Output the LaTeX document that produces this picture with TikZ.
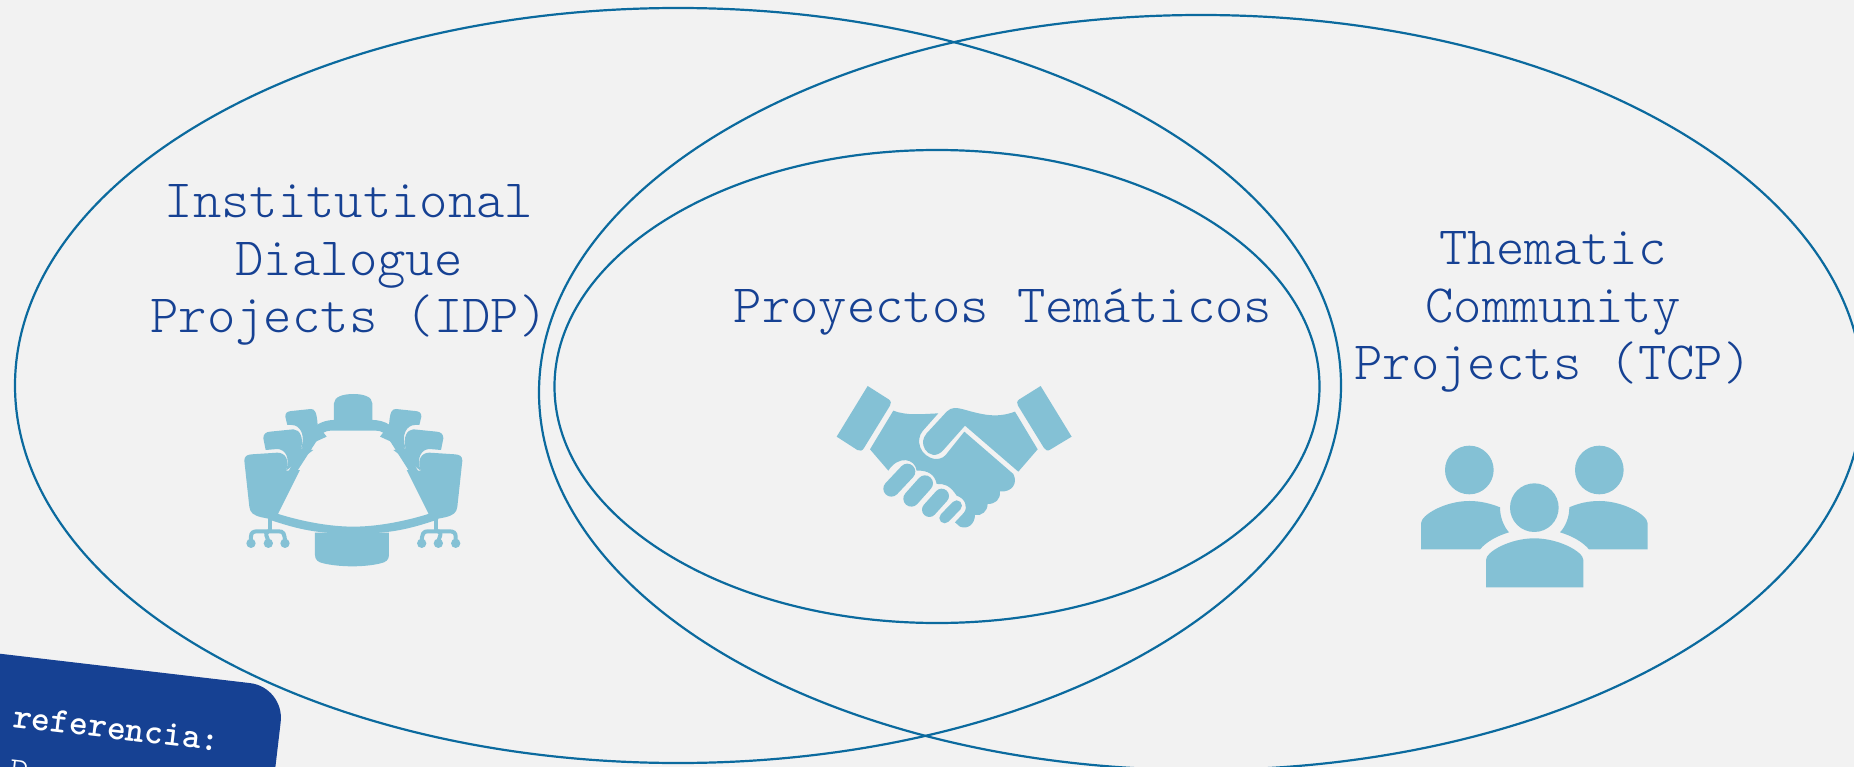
\documentclass[tikz,border=0pt]{standalone}
\usepackage{xcolor}
\usetikzlibrary{positioning}
\definecolor{pagebg}{HTML}{F2F2F2}
\definecolor{ringblue}{HTML}{0B6A9E}
\definecolor{iconblue}{HTML}{84C1D5}
\definecolor{navy}{HTML}{164193}
\tikzset{
    ring/.style={draw=ringblue,line width=2.2pt},
    title/.style={text=navy,align=center,font=\fontsize{54}{57.4}\selectfont\ttfamily\fontseries{l}\selectfont},
    icon/.style={fill=iconblue,draw=none},
    finger/.style={draw=iconblue,line cap=round},
}
\begin{document}
\begin{tikzpicture}[x=1pt,y=-1pt]
    \path[use as bounding box,fill=pagebg] (0,0) rectangle (1854,767);
    \clip (0,0) rectangle (1854,767);

    % the three rings
    \draw[ring] (678,385.5) ellipse [x radius=663,y radius=377.5];
    \draw[ring] (1201,392.5) ellipse [x radius=662,y radius=377.5];
    \draw[ring] (937,386.5) ellipse [x radius=382.5,y radius=236.5];

    \node[title] (idp) at (349,265) {Institutional\\Dialogue\\Projects (IDP)};
    \node[title] (pt) at (1003,312) {Proyectos Temáticos};
    \node[title] (tcp) at (1553,312) {Thematic~\\Community\\Projects (TCP)};

    % meeting table
    \begin{scope}[shift={(200,370)},x=0.3333pt,y=-0.3333pt]
        \foreach \s/\t in {1/0,-1/306.67} {
            \begin{scope}[xshift=\t,xscale=\s]
                \fill[icon] (133,272) .. controls (133,258) and (142,254) .. (155,253) -- (232,248)
                    .. controls (255,248) and (270,268) .. (258,302) -- (300,300) -- (225,450) -- (185,442)
                    .. controls (160,436) and (150,428) .. (148,410) -- cycle;
                \fill[icon] (190,205) .. controls (190,192) and (198,186) .. (210,185) -- (280,178)
                    .. controls (300,178) and (312,205) .. (303,235) -- (340,240) -- (258,302)
                    .. controls (272,262) and (255,238) .. (232,237) -- (197,240) -- cycle;
                \fill[icon] (256,140) .. controls (256,128) and (262,124) .. (275,123) -- (332,117)
                    .. controls (345,117) and (350,125) .. (353,165) -- (380,200) -- (303,235)
                    .. controls (318,195) and (300,165) .. (275,165) -- (262,165) -- cycle;
                % castors
                \fill[icon] (205,445) rectangle (217,480);
                \draw[finger,line width=12pt*0.3333] (153,520) -- (153,500) .. controls (153,488) and (160,484) .. (172,484)
                    -- (236,484) .. controls (250,484) and (255,490) .. (255,520);
                \draw[finger,line width=12pt*0.3333] (205,484) .. controls (190,490) and (205,500) .. (205,520);
                \foreach \w in {153,205,255} {
                    \fill[icon] (\w,520) circle [radius=14];
                }
            \end{scope}
        }
        % top chair, table rim, bottom chair
        \fill[icon] (402,155) -- (402,100) .. controls (402,80) and (430,72) .. (460,72)
            .. controls (490,72) and (517,80) .. (517,100) -- (517,155) -- cycle;
        \fill[icon,even odd rule] (350,165) .. controls (365,155) and (385,150) .. (400,150) -- (520,150)
            .. controls (535,150) and (555,155) .. (570,165) -- (720,410) -- (715,448)
            .. controls (620,480) and (570,490) .. (460,492) .. controls (350,490) and (300,480) .. (205,448) -- (200,410) -- cycle
            (392,182) .. controls (375,182) and (365,190) .. (355,205) -- (226,405)
            .. controls (218,418) and (224,428) .. (238,433) .. controls (310,455) and (390,470) .. (460,470)
            .. controls (530,470) and (610,455) .. (682,433) .. controls (696,428) and (700,418) .. (692,405)
            -- (565,205) .. controls (555,190) and (545,182) .. (528,182) -- cycle;
        \fill[icon] (345,488) -- (345,555) .. controls (345,570) and (355,577) .. (370,580)
            .. controls (420,592) and (495,592) .. (542,580) .. controls (557,577) and (567,570) .. (567,555)
            -- (567,488) -- cycle;
    \end{scope}

    % handshake
    \begin{scope}[shift={(800,360)},x=0.3333pt,y=-0.3333pt]
        \fill[icon] (203,78) -- (266,118) .. controls (274,124) and (274,130) .. (270,137) -- (192,264)
            .. controls (187,273) and (180,274) .. (172,270) -- (110,230) -- cycle;
        \fill[icon] (722,78) -- (815,230) -- (752,268) .. controls (744,274) and (736,272) .. (732,264)
            -- (654,137) .. controls (650,130) and (650,124) .. (658,118) -- cycle;
        \fill[icon] (440,155) .. controls (455,140) and (470,143) .. (490,148)
            .. controls (550,165) and (590,175) .. (645,155) -- (713,268) -- (655,335) -- (495,197)
            -- (432,268) .. controls (410,295) and (385,285) .. (375,268) .. controls (365,250) and (368,235) .. (380,220) -- cycle;
        \fill[icon] (280,152) .. controls (320,168) and (370,162) .. (415,160) -- (368,213)
            .. controls (345,240) and (360,290) .. (405,297) .. controls (425,298) and (435,290) .. (445,275)
            -- (493,215) -- (640,342) .. controls (655,370) and (635,398) .. (600,394)
            .. controls (602,420) and (585,432) .. (563,432) .. controls (562,455) and (545,468) .. (525,465)
            .. controls (525,490) and (505,510) .. (480,500) -- (465,487) -- (492,458)
            .. controls (505,440) and (495,415) .. (470,407) .. controls (450,375) and (430,370) .. (410,372)
            .. controls (405,345) and (385,330) .. (350,332) .. controls (345,295) and (295,285) .. (265,332)
            -- (210,268) -- cycle;
        \draw[finger,line width=48pt*0.3333] (274,386) -- (322,335);
        \draw[finger,line width=48pt*0.3333] (334,416) -- (375,370);
        \draw[finger,line width=44pt*0.3333] (388,449) -- (425,408);
        \draw[finger,line width=32pt*0.3333] (434,474) -- (470,437);
    \end{scope}

    % three people
    \begin{scope}[shift={(1390,420)},x=0.3333pt,y=-0.3333pt]
        \foreach \px/\py in {238/150,628/150,433/263} {
            \fill[icon] (\px,\py) circle [radius=73];
        }
        \fill[icon] (93,388) -- (93,310) .. controls (93,285) and (165,243) .. (238,243)
            .. controls (270,243) and (300,250) .. (330,262) .. controls (330,290) and (340,318) .. (357,337)
            .. controls (320,348) and (290,365) .. (270,388) -- cycle;
        \fill[icon] (773,388) -- (773,310) .. controls (773,285) and (700,243) .. (628,243)
            .. controls (595,243) and (565,250) .. (538,262) .. controls (538,290) and (528,318) .. (510,337)
            .. controls (547,348) and (577,365) .. (597,388) -- cycle;
        \fill[icon] (288,502) -- (288,420) .. controls (288,395) and (360,355) .. (433,355)
            .. controls (506,355) and (580,395) .. (580,420) -- (580,502) -- cycle;
    \end{scope}

    % corner card
    \node[fill=navy,rounded corners=35pt,minimum width=520pt,minimum height=300pt,
        rotate=-6.7,anchor=north east] (card) at (285,687) {};
    \node[rotate=-6.7,anchor=base west,text=white,inner sep=0pt,
        font=\fontsize{36}{40}\selectfont\ttfamily\bfseries] (cardhead) at (12,727) {referencia:};
    \node[rotate=-6.7,anchor=base west,text=white,inner sep=0pt,
        font=\fontsize{36}{40}\selectfont\ttfamily\fontseries{l}\selectfont] (cardtext) at (8,781) {Progra};
\end{tikzpicture}
\end{document}
